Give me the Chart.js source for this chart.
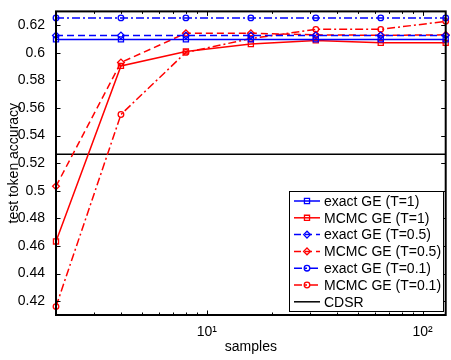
<!DOCTYPE html>
<html>
<head>
<meta charset="utf-8">
<script src="https://cdn.jsdelivr.net/npm/chart.js@4/dist/chart.umd.min.js"></script>
<style>
  html, body { margin: 0; padding: 0; background: #fff; }
  #wrap { width: 451px; height: 360px; }
</style>
</head>
<body>
<div id="wrap"><canvas id="canvas"></canvas></div>
<script>
let samples = [2, 4, 8, 16, 32, 64, 128];

let exactT1  = [0.6097, 0.6097, 0.6097, 0.6097, 0.6097, 0.6097, 0.6097];
let mcmcT1   = [0.4633, 0.5905, 0.6010, 0.6063, 0.6090, 0.6072, 0.6072];
let exactT05 = [0.6125, 0.6125, 0.6125, 0.6125, 0.6125, 0.6125, 0.6125];
let mcmcT05  = [0.5033, 0.5930, 0.6142, 0.6142, 0.6130, 0.6127, 0.6130];
let exactT01 = [0.6253, 0.6253, 0.6253, 0.6253, 0.6253, 0.6253, 0.6253];
let mcmcT01  = [0.4161, 0.5553, 0.6003, 0.6103, 0.6170, 0.6170, 0.6228];
let cdsr     = [0.5264, 0.5264, 0.5264, 0.5264, 0.5264, 0.5264, 0.5264];

let yTicks = [0.42, 0.44, 0.46, 0.48, 0.5, 0.52, 0.54, 0.56, 0.58, 0.6, 0.62];
let xTicks = [10, 100];
let xTickLabels = ['10\u00b9', '10\u00b2'];
let xMinorTicks = [3, 4, 5, 6, 7, 8, 9, 20, 30, 40, 50, 60, 70, 80, 90];

let font = { family: 'Liberation Sans, Arial, sans-serif', size: 14 };
let blue = 'rgb(0,0,255)';
let red = 'rgb(255,0,0)';

function series(label, values, color, dash, marker, radius) {
  return {
    label: label,
    data: samples.map((s, i) => ({ x: s, y: values[i] })),
    borderColor: color,
    backgroundColor: color,
    borderWidth: 1.5,
    borderDash: dash,
    pointStyle: marker,
    pointRadius: radius,
    pointBorderWidth: 1.3,
    pointBorderColor: color,
    pointBackgroundColor: 'rgba(0,0,0,0)',
    tension: 0,
    clip: false
  };
}

let datasets = [
  series('exact GE (T=1)',   exactT1,  blue, [],           'rect',    3.6),
  series('MCMC GE (T=1)',    mcmcT1,   red,  [],           'rect',    3.6),
  series('exact GE (T=0.5)', exactT05, blue, [7, 4],       'rectRot', 3.4),
  series('MCMC GE (T=0.5)',  mcmcT05,  red,  [7, 4],       'rectRot', 3.4),
  series('exact GE (T=0.1)', exactT01, blue, [8, 3, 2, 3], 'circle',  2.8),
  series('MCMC GE (T=0.1)',  mcmcT01,  red,  [8, 3, 2, 3], 'circle',  2.8),
  series('CDSR',             cdsr,     '#000', [],         false,     0)
];

// axes box, inward ticks and the legend, drawn like the matlab figure
let framePlugin = {
  id: 'frame',
  afterDatasetsDraw(chart) {
    let ctx = chart.ctx;
    let a = chart.chartArea;
    let xs = chart.scales.x, ys = chart.scales.y;
    ctx.save();
    ctx.strokeStyle = '#000';
    ctx.lineWidth = 1;
    ctx.beginPath();
    yTicks.forEach(v => {
      let y = Math.round(ys.getPixelForValue(v)) + 0.5;
      ctx.moveTo(a.left, y); ctx.lineTo(a.left + 4.5, y);
      ctx.moveTo(a.right, y); ctx.lineTo(a.right - 4.5, y);
    });
    xTicks.forEach(v => {
      let x = Math.round(xs.getPixelForValue(v)) + 0.5;
      ctx.moveTo(x, a.bottom); ctx.lineTo(x, a.bottom - 4.5);
      ctx.moveTo(x, a.top); ctx.lineTo(x, a.top + 4.5);
    });
    xMinorTicks.forEach(v => {
      let x = Math.round(xs.getPixelForValue(v)) + 0.5;
      ctx.moveTo(x, a.bottom); ctx.lineTo(x, a.bottom - 2.5);
      ctx.moveTo(x, a.top); ctx.lineTo(x, a.top + 2.5);
    });
    ctx.stroke();
    ctx.lineWidth = 2;
    ctx.strokeRect(a.left, a.top, a.right - a.left, a.bottom - a.top);

    // legend
    let bx = 289, by = 191, bw = 154, bh = 120;
    ctx.fillStyle = '#fff';
    ctx.fillRect(bx, by, bw, bh);
    ctx.lineWidth = 1;
    ctx.strokeRect(bx + 0.5, by + 0.5, bw, bh);
    ctx.font = font.size + 'px ' + font.family;
    ctx.textBaseline = 'middle';
    ctx.textAlign = 'left';
    chart.data.datasets.forEach((ds, i) => {
      let y = by + 10 + i * 16.8;
      ctx.strokeStyle = ds.borderColor;
      ctx.lineWidth = ds.borderWidth;
      ctx.setLineDash(ds.borderDash);
      ctx.beginPath();
      ctx.moveTo(bx + 5, y); ctx.lineTo(bx + 31, y);
      ctx.stroke();
      ctx.setLineDash([]);
      if (ds.pointStyle) {
        ctx.fillStyle = 'rgba(0,0,0,0)';
        ctx.lineWidth = ds.pointBorderWidth;
        Chart.helpers.drawPoint(ctx, {
          pointStyle: ds.pointStyle, radius: ds.pointRadius, rotation: 0, borderWidth: ds.pointBorderWidth
        }, bx + 18, y);
      }
      ctx.fillStyle = '#000';
      ctx.fillText(ds.label, bx + 35, y + 1);
    });
    ctx.restore();
  }
};

let options = {
  type: 'line',
  data: { datasets: datasets },
  options: {
    responsive: true,
    maintainAspectRatio: false,
    animation: false,
    layout: { padding: { top: 5, right: 3, left: 0, bottom: 0 } },
    plugins: { legend: { display: false }, tooltip: { enabled: false } },
    scales: {
      x: {
        type: 'logarithmic',
        min: 2,
        max: 128,
        grid: { display: false },
        border: { display: false },
        afterBuildTicks: s => { s.ticks = xTicks.map(v => ({ value: v })); },
        afterFit: s => { s.height = 45; },
        ticks: {
          font: font, color: '#000', padding: 1, maxRotation: 0, autoSkip: false,
          callback: v => xTickLabels[xTicks.indexOf(v)]
        },
        title: { display: true, text: 'samples', font: font, color: '#000', padding: { top: 0, bottom: 4 } }
      },
      y: {
        min: 0.41,
        max: 0.63,
        grid: { display: false },
        border: { display: false },
        afterBuildTicks: s => { s.ticks = yTicks.map(v => ({ value: v })); },
        afterFit: s => { s.width = 56; },
        ticks: {
          font: font, color: '#000', padding: 3,
          callback: v => String(parseFloat(v.toFixed(2)))
        },
        title: { display: true, text: 'test token accuracy', font: font, color: '#000', padding: { top: 6, bottom: 0 } }
      }
    }
  },
  plugins: [framePlugin]
};

let chart = new Chart(document.getElementById('canvas'), options);
</script>
</body>
</html>
